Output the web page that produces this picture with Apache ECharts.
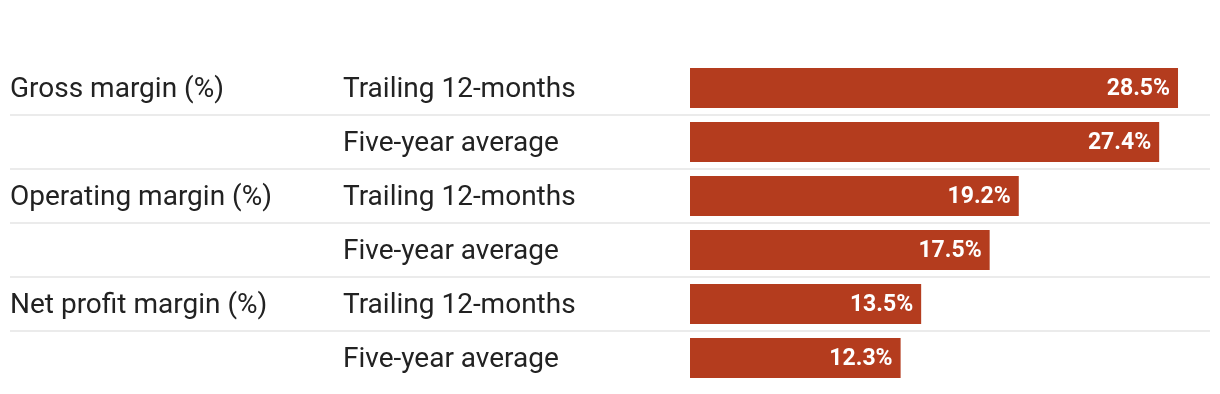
<!DOCTYPE html>
<html>
<head>
<meta charset="utf-8">
<script src="https://cdn.jsdelivr.net/npm/echarts@6/dist/echarts.min.js"></script>
<style>
html,body{margin:0;padding:0;background:#fff;}
#chart{width:1220px;height:394px;}
</style>
</head>
<body>
<div id="chart"></div>
<script>
const metrics = ['Gross margin (%)', '', 'Operating margin (%)', '', 'Net profit margin (%)', ''];
const periods = ['Trailing 12-months', 'Five-year average', 'Trailing 12-months', 'Five-year average', 'Trailing 12-months', 'Five-year average'];
const values = [28.5, 27.4, 19.2, 17.5, 13.5, 12.3];

const rowIds = periods.map((p, i) => String(i));
const chart = echarts.init(document.getElementById('chart'), null, {renderer: 'canvas'});
const font = 'Roboto, "Noto Sans", sans-serif';

chart.setOption({
  animation: false,
  backgroundColor: '#ffffff',
  grid: [
    {left: 10, right: 10, top: 61, bottom: 9},
    {left: 690, right: 16.3, top: 61, bottom: 9}
  ],
  xAxis: [
    {gridIndex: 0, type: 'value', show: false, min: 0, max: 1},
    {gridIndex: 1, type: 'value', show: false, min: 0, max: 30}
  ],
  yAxis: [
    {
      gridIndex: 0, type: 'category', inverse: true, data: rowIds,
      axisLine: {show: false}, axisTick: {show: false},
      axisLabel: {
        show: true, inside: false, margin: 0, align: 'left',
        padding: [4, 0, 0, 0],
        formatter: (v) => {
          const i = Number(v);
          return '{a|' + (metrics[i] || ' ') + '}{b|' + periods[i] + '}';
        },
        rich: {
          a: {width: 333, fontSize: 28, fontFamily: font, color: '#222222'},
          b: {fontSize: 28, fontFamily: font, color: '#222222'}
        }
      },
      splitLine: {show: true, showMinLine: false, showMaxLine: false, interval: 0,
        lineStyle: {color: '#ebebeb', width: 2}}
    },
    {gridIndex: 1, type: 'category', inverse: true, data: rowIds, show: false}
  ],
  series: [{
    type: 'bar',
    xAxisIndex: 1, yAxisIndex: 1,
    data: values,
    barWidth: 40,
    itemStyle: {color: '#b43c1e'},
    label: {
      show: true, position: 'insideRight', distance: 8, offset: [0, 1],
      color: '#ffffff', fontWeight: 'bold', fontSize: 23, fontFamily: font,
      formatter: (p) => p.value.toFixed(1) + '%'
    }
  }]
});
</script>
</body>
</html>
